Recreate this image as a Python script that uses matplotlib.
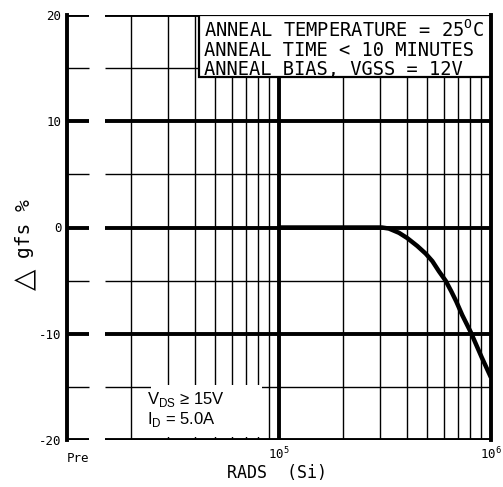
import matplotlib
matplotlib.use("Agg")
import matplotlib.pyplot as plt
from matplotlib.patches import Rectangle
from matplotlib.transforms import blended_transform_factory

plt.rcParams['axes.unicode_minus'] = False
MONO = ['DejaVu Sans Mono', 'DejaVu Sans']

# Transconductance change vs. total dose
rads = [1.0e5, 3.06e5, 3.30e5, 3.68e5, 4.03e5, 4.49e5, 4.92e5, 5.29e5, 5.68e5,
        6.11e5, 6.50e5, 6.86e5, 7.32e5, 8.02e5, 9.04e5, 1.0e6]
dgfs = [0.0, 0.0, -0.10, -0.50, -1.00, -1.74, -2.46, -3.17, -4.12,
        -5.01, -6.02, -6.97, -8.25, -9.84, -12.22, -14.12]

y_major = [-20, -10, 0, 10, 20]
y_minor = [-15, -5, 5, 15]
y_labels = ['-20', '-10', '0', '10', '20']
x_minor = [2e4, 3e4, 4e4, 5e4, 6e4, 7e4, 8e4, 9e4,
           2e5, 3e5, 4e5, 5e5, 6e5, 7e5, 8e5, 9e5]
x_major = [1e5]

anneal_lines = ['ANNEAL TEMPERATURE = 25$^\\mathregular{O}$C',
                'ANNEAL TIME < 10 MINUTES',
                'ANNEAL BIAS, VGSS = 12V']
cond_lines = ['V$_\\mathregular{DS}$ \u2265 15V', 'I$_\\mathregular{D}$ = 5.0A']

W, H = 503, 487
fig = plt.figure(figsize=(W / 100, H / 100), dpi=100)
ax = fig.add_axes([67 / W, 1 - 440 / H, (491 - 67) / W, (440 - 15) / H])
ax.set_xscale('log')
ax.set_xlim(1e4, 1e6)
ax.set_ylim(-20, 20)

THICK, THIN = 2.8, 1.0
pre_end, data_start = 1.27e4, 1.51e4

# vertical grid
ax.vlines(x_minor, -20, 20, colors='black', lw=THIN, zorder=1)
ax.vlines(x_major, -20, 20, colors='black', lw=THICK, zorder=1)

# horizontal grid, broken between the "Pre" column and the dose scale
for ys, lw in ((y_minor, THIN), (y_major, THICK)):
    ax.hlines(ys, 1e4, pre_end, colors='black', lw=lw, zorder=3)
    ax.hlines(ys, data_start, 1e6, colors='black', lw=lw, zorder=3)

for s in ('top', 'bottom'):
    ax.spines[s].set_visible(False)
for s in ('left', 'right'):
    ax.spines[s].set_linewidth(THICK)
    ax.spines[s].set_zorder(6)

ax.plot(rads, dgfs, color='black', lw=3.2, solid_capstyle='butt',
        solid_joinstyle='round', zorder=4)

ax.set_yticks(y_major)
ax.set_yticklabels(y_labels, fontfamily=MONO, fontsize=9)
ax.tick_params(axis='y', length=0, pad=4)
ax.set_xticks([])
ax.minorticks_off()

# annealing conditions box
ax.add_patch(Rectangle((4.2e4, 14.15), 1e6 - 4.2e4, 20 - 14.15, facecolor='white',
                       edgecolor='black', lw=1.6, zorder=5))
ax.text(0.322, 0.860, '\n'.join(anneal_lines), transform=ax.transAxes,
        fontfamily=MONO, fontsize=13.5, linespacing=0.97,
        va='baseline', ha='left', zorder=7)

# test conditions
ax.add_patch(Rectangle((2.5e4, -19.7), 8.35e4 - 2.5e4, 19.7 - 14.85, facecolor='white',
                       edgecolor='none', zorder=3.5))
for txt, yb in zip(cond_lines, (0.0847, 0.0376)):
    ax.text(0.189, yb, txt, transform=ax.transAxes, fontfamily='Liberation Sans',
            fontsize=12, va='baseline', ha='left', zorder=7)

# x tick labels
tr = blended_transform_factory(ax.transData, ax.transAxes)
ax.text(1e4, -12 / 425, 'Pre', transform=tr, fontfamily=MONO, fontsize=9,
        ha='left', va='top')
ax.text(1e5, -6 / 425, '10$^\\mathregular{5}$', transform=tr, fontfamily=MONO,
        fontsize=9, ha='center', va='top')
ax.text(1e6, -6 / 425, '10$^\\mathregular{6}$', transform=tr, fontfamily=MONO,
        fontsize=9, ha='center', va='top')

fig.text(277 / W, 1 - 473 / H, 'RADS  (Si)', fontfamily=MONO, fontsize=12,
         ha='center', va='center')
fig.text(25 / W, 1 - 279 / H, '\u25b3', fontfamily='DejaVu Sans', fontsize=20,
         rotation=90, ha='center', va='center')
fig.text(25 / W, 1 - 229 / H, 'gfs %', fontfamily=MONO, fontsize=14,
         rotation=90, ha='center', va='center')

fig.savefig('out.png', dpi=100)
